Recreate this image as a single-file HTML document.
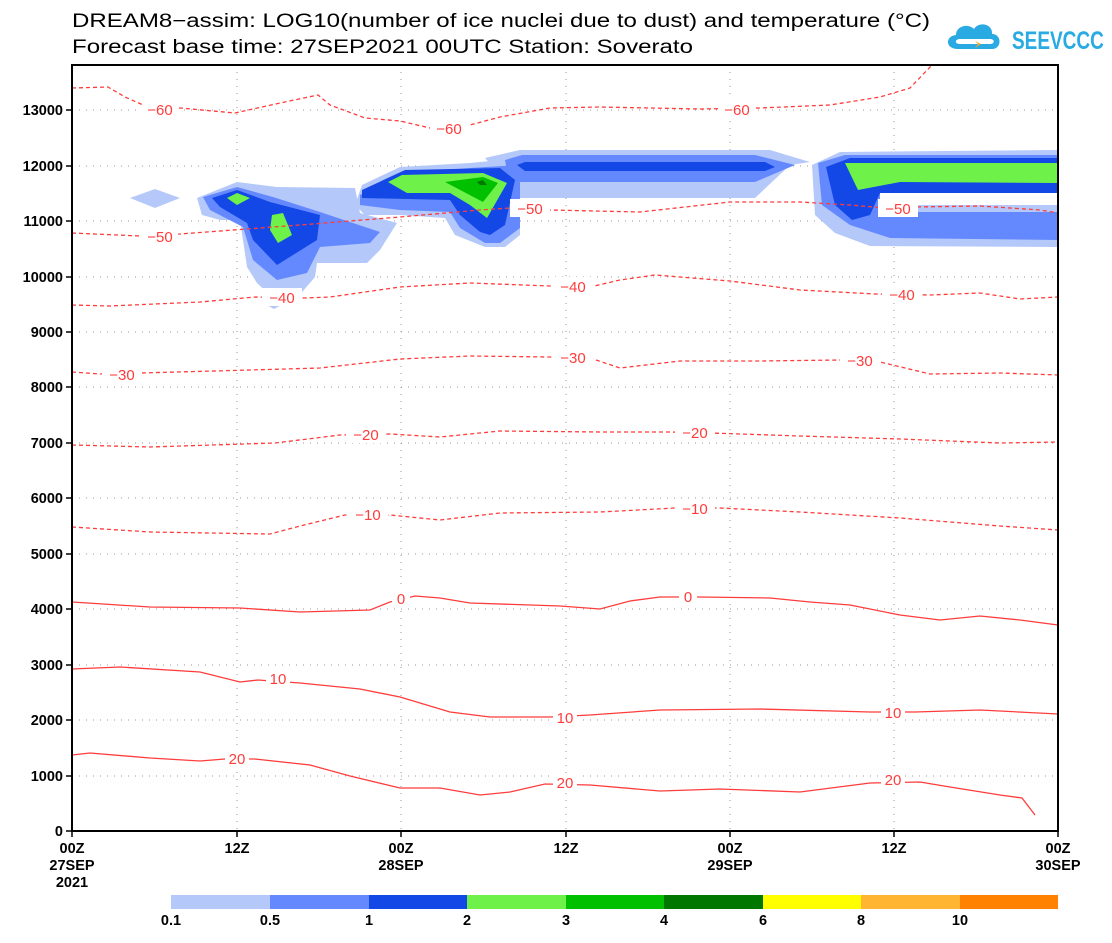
<!DOCTYPE html>
<html><head><meta charset="utf-8"><style>
html,body{margin:0;padding:0;background:#fff;}
svg{display:block;font-family:"Liberation Sans",sans-serif;}
</style></head><body>
<svg width="1112" height="943" viewBox="0 0 1112 943" xmlns="http://www.w3.org/2000/svg">
<rect width="1112" height="943" fill="#fff"/>
<text x="72" y="27" font-size="19" fill="#000" textLength="858" lengthAdjust="spacingAndGlyphs">DREAM8−assim: LOG10(number of ice nuclei due to dust) and temperature (°C)</text>
<text x="72" y="53" font-size="19" fill="#000" textLength="621" lengthAdjust="spacingAndGlyphs">Forecast base time: 27SEP2021 00UTC  Station: Soverato</text>
<!-- logo -->
<g fill="#29aae2">
<path d="M958,49 C945,49 945,36 956,35 C956,26 968,23 974,29 C979,21 993,24 992,34 C1002,34 1002,49 992,49 Z"/>
<path d="M960,44 C954,44 955,39 960,39 L990,39 C995,39 995,44 990,44 Z" fill="#fff"/>
<path d="M975,41 L981,44 L975,48 L978,44 Z" fill="#f5a623"/>
<text x="1012" y="49" font-size="25" font-weight="bold" transform="translate(1012 0) scale(0.76 1) translate(-1012 0)">SEEVCCC</text>
</g>
<!-- grid -->
<g stroke="#999" stroke-width="1" stroke-dasharray="1,6">
<line x1="72" y1="776" x2="1058" y2="776"/><line x1="72" y1="720" x2="1058" y2="720"/><line x1="72" y1="665" x2="1058" y2="665"/><line x1="72" y1="609" x2="1058" y2="609"/><line x1="72" y1="554" x2="1058" y2="554"/><line x1="72" y1="498" x2="1058" y2="498"/><line x1="72" y1="443" x2="1058" y2="443"/><line x1="72" y1="387" x2="1058" y2="387"/><line x1="72" y1="332" x2="1058" y2="332"/><line x1="72" y1="277" x2="1058" y2="277"/><line x1="72" y1="221" x2="1058" y2="221"/><line x1="72" y1="166" x2="1058" y2="166"/><line x1="72" y1="110" x2="1058" y2="110"/>
<line x1="237" y1="65" x2="237" y2="831"/><line x1="401" y1="65" x2="401" y2="831"/><line x1="566" y1="65" x2="566" y2="831"/><line x1="730" y1="65" x2="730" y2="831"/><line x1="894" y1="65" x2="894" y2="831"/>
</g>
<!-- shading light -->
<g fill="#b4c8fa">
<polygon points="130,198 155,189 180,198 155,208"/>
<polygon points="197,198 237,182 277,187 355,188 360,213 397,223 380,250 367,263 317,263 315,277 297,298 273,298 257,283 247,267 240,220 220,220 202,215"/>
<polygon points="265,304 283,304 274,309"/>
<polygon points="355,205 362,185 400,167 470,163 520,158 520,235 505,247 485,247 455,235 445,218 400,215 365,215"/>
<polygon points="485,158 520,150 770,150 810,162 790,165 755,198 520,198"/>
<polygon points="812,165 840,152 1058,150 1058,247 870,246 835,233 815,215"/>
</g>
<g fill="#6489ff">
<polygon points="203,197 237,187 273,197 320,212 380,232 370,243 320,247 307,273 277,280 253,260 243,227 210,210"/>
<polygon points="360,195 400,173 470,168 520,165 520,228 500,243 485,243 460,228 450,212 400,210 360,205"/>
<polygon points="505,160 522,155 755,155 795,165 755,182 520,182 517,228"/>
<polygon points="818,163 845,155 1058,155 1058,240 890,238 850,225 822,205"/>
</g>
<g fill="#1448e6">
<polygon points="212,198 237,190 270,202 320,215 317,240 277,265 253,240 247,223 220,207"/>
<polygon points="362,190 405,170 500,168 515,180 505,225 490,235 480,232 460,215 450,200 362,198"/>
<polygon points="517,165 525,162 765,162 775,167 765,171 525,171"/>
<polygon points="826,167 850,158 1058,158 1058,193 880,193 870,215 852,220 835,205"/>
</g>
<polygon points="880,193 1058,193 1058,205 880,205" fill="#fff"/>
<polygon points="880,205 1058,205 1058,212 880,212" fill="#b4c8fa"/>
<g fill="#6ef24a">
<polygon points="227,198 237,193 250,198 237,205"/>
<polygon points="272,215 283,213 292,235 278,243 270,230"/>
<polygon points="388,182 402,175 483,173 507,183 487,218 470,205 450,193 407,193"/>
<polygon points="845,163 1058,163 1058,183 900,182 858,190"/>
</g>
<polygon points="445,182 483,177 498,183 483,202" fill="#00c000"/>
<polygon points="477,182 483,180 487,185 480,185" fill="#007800"/>
<!-- contours -->
<g fill="none" stroke="#ff3c3c" stroke-width="1.3">
<g stroke-dasharray="4,3">
<polyline points="72,88 108,87 125,97 150,108 180,108 235,113 280,103 318,95 330,105 365,118 400,121 430,128 470,125 500,117 550,108 600,107 700,109 760,108 830,105 880,97 910,88 932,65"/>
<polyline points="72,233 140,236 180,234 300,225 400,217 480,210 510,208 550,210 640,212 730,202 800,202 850,205 885,208 915,207 980,206 1040,210 1058,213"/>
<polyline points="72,305 110,306 200,302 255,297 305,298 330,297 400,287 470,283 550,286 590,287 620,280 655,275 730,281 800,290 875,294 930,295 980,293 1020,299 1058,297"/>
<polyline points="72,372 100,374 140,373 250,370 320,368 400,359 470,356 550,357 590,358 620,368 680,361 760,361 840,360 880,362 930,374 1000,373 1058,375"/>
<polyline points="72,445 150,447 275,443 340,435 390,434 440,437 500,431 600,432 670,432 710,433 800,436 900,439 1000,443 1058,442"/>
<polyline points="72,527 150,532 270,534 300,526 345,515 390,515 440,520 500,513 600,512 675,508 720,508 800,512 900,518 1000,526 1058,530"/>
</g>
<polyline points="72,602 150,607 240,608 300,612 370,610 390,602 415,596 440,598 470,603 560,606 600,609 630,601 660,597 700,597 770,598 810,602 850,605 900,615 940,620 980,616 1020,620 1058,625"/>
<polyline points="72,669 120,667 200,672 240,682 258,680 300,683 360,689 400,697 450,712 490,717 550,717 590,715 660,710 760,709 870,712 915,712 980,710 1058,714"/>
<polyline points="72,755 90,753 150,758 200,761 225,759 255,759 310,765 350,776 400,788 440,788 480,795 510,792 545,784 590,785 660,791 720,789 800,792 870,783 920,782 950,787 1000,795 1022,798 1035,815"/>
</g>
<g font-size="15" fill="#ff3c3c" text-anchor="middle">
<g fill="#fff"><rect x="142" y="100" width="36" height="18"/><rect x="430" y="119" width="38" height="18"/><rect x="718" y="100" width="38" height="18"/>
<rect x="142" y="227" width="36" height="18"/><rect x="510" y="199" width="40" height="18"/><rect x="878" y="199" width="40" height="18"/>
<rect x="262" y="288" width="40" height="18"/><rect x="553" y="277" width="40" height="18"/><rect x="882" y="285" width="40" height="18"/>
<rect x="102" y="365" width="40" height="18"/><rect x="553" y="348" width="40" height="18"/><rect x="840" y="351" width="40" height="18"/>
<rect x="346" y="425" width="40" height="18"/><rect x="675" y="423" width="40" height="18"/>
<rect x="348" y="505" width="40" height="18"/><rect x="675" y="499" width="40" height="18"/>
<rect x="392" y="589" width="18" height="18"/><rect x="679" y="587" width="18" height="18"/>
<rect x="266" y="669" width="24" height="18"/><rect x="553" y="708" width="24" height="18"/><rect x="881" y="703" width="24" height="18"/>
<rect x="225" y="749" width="24" height="18"/><rect x="553" y="773" width="24" height="18"/><rect x="881" y="770" width="24" height="18"/></g>
<text x="160" y="115">−60</text><text x="449" y="134">−60</text><text x="737" y="115">−60</text>
<text x="160" y="242">−50</text><text x="530" y="214">−50</text><text x="898" y="214">−50</text>
<text x="282" y="303">−40</text><text x="573" y="292">−40</text><text x="902" y="300">−40</text>
<text x="122" y="380">−30</text><text x="573" y="363">−30</text><text x="860" y="366">−30</text>
<text x="366" y="440">−20</text><text x="695" y="438">−20</text>
<text x="368" y="520">−10</text><text x="695" y="514">−10</text>
<text x="401" y="604">0</text><text x="688" y="602">0</text>
<text x="278" y="684">10</text><text x="565" y="723">10</text><text x="893" y="718">10</text>
<text x="237" y="764">20</text><text x="565" y="788">20</text><text x="893" y="785">20</text>
</g>
<!-- frame -->
<rect x="72" y="65" width="986" height="766" fill="none" stroke="#000" stroke-width="2"/>
<g stroke="#000" stroke-width="1.5">
<line x1="66" y1="831" x2="72" y2="831"/><line x1="66" y1="776" x2="72" y2="776"/><line x1="66" y1="720" x2="72" y2="720"/><line x1="66" y1="665" x2="72" y2="665"/><line x1="66" y1="609" x2="72" y2="609"/><line x1="66" y1="554" x2="72" y2="554"/><line x1="66" y1="498" x2="72" y2="498"/><line x1="66" y1="443" x2="72" y2="443"/><line x1="66" y1="387" x2="72" y2="387"/><line x1="66" y1="332" x2="72" y2="332"/><line x1="66" y1="277" x2="72" y2="277"/><line x1="66" y1="221" x2="72" y2="221"/><line x1="66" y1="166" x2="72" y2="166"/><line x1="66" y1="110" x2="72" y2="110"/>
<line x1="72" y1="831" x2="72" y2="837"/><line x1="237" y1="831" x2="237" y2="837"/><line x1="401" y1="831" x2="401" y2="837"/><line x1="566" y1="831" x2="566" y2="837"/><line x1="730" y1="831" x2="730" y2="837"/><line x1="894" y1="831" x2="894" y2="837"/><line x1="1058" y1="831" x2="1058" y2="837"/>
</g>
<g font-size="14.5" font-weight="bold" fill="#000" text-anchor="end">
<text x="63" y="836">0</text><text x="63" y="781">1000</text><text x="63" y="725">2000</text><text x="63" y="670">3000</text><text x="63" y="614">4000</text><text x="63" y="559">5000</text><text x="63" y="503">6000</text><text x="63" y="448">7000</text><text x="63" y="392">8000</text><text x="63" y="337">9000</text><text x="63" y="282">10000</text><text x="63" y="226">11000</text><text x="63" y="171">12000</text><text x="63" y="115">13000</text>
</g>
<g font-size="14.5" font-weight="bold" fill="#000" text-anchor="middle">
<text x="72" y="853">00Z</text><text x="72" y="870">27SEP</text><text x="72" y="887">2021</text>
<text x="237" y="853">12Z</text>
<text x="401" y="853">00Z</text><text x="401" y="870">28SEP</text>
<text x="566" y="853">12Z</text>
<text x="730" y="853">00Z</text><text x="730" y="870">29SEP</text>
<text x="894" y="853">12Z</text>
<text x="1058" y="853">00Z</text><text x="1058" y="870">30SEP</text>
</g>
<!-- colorbar -->
<g>
<rect x="171" y="895" width="99" height="14" fill="#b4c8fa"/>
<rect x="270" y="895" width="99" height="14" fill="#6489ff"/>
<rect x="369" y="895" width="99" height="14" fill="#1448e6"/>
<rect x="467" y="895" width="99" height="14" fill="#6ef24a"/>
<rect x="566" y="895" width="99" height="14" fill="#00c000"/>
<rect x="664" y="895" width="99" height="14" fill="#007800"/>
<rect x="763" y="895" width="99" height="14" fill="#ffff00"/>
<rect x="861" y="895" width="99" height="14" fill="#ffb432"/>
<rect x="960" y="895" width="98" height="14" fill="#ff8200"/>
</g>
<g font-size="14.5" font-weight="bold" fill="#000" text-anchor="middle">
<text x="171" y="925">0.1</text><text x="270" y="925">0.5</text><text x="369" y="925">1</text><text x="467" y="925">2</text><text x="566" y="925">3</text><text x="664" y="925">4</text><text x="763" y="925">6</text><text x="861" y="925">8</text><text x="960" y="925">10</text>
</g>
</svg>
</body></html>
